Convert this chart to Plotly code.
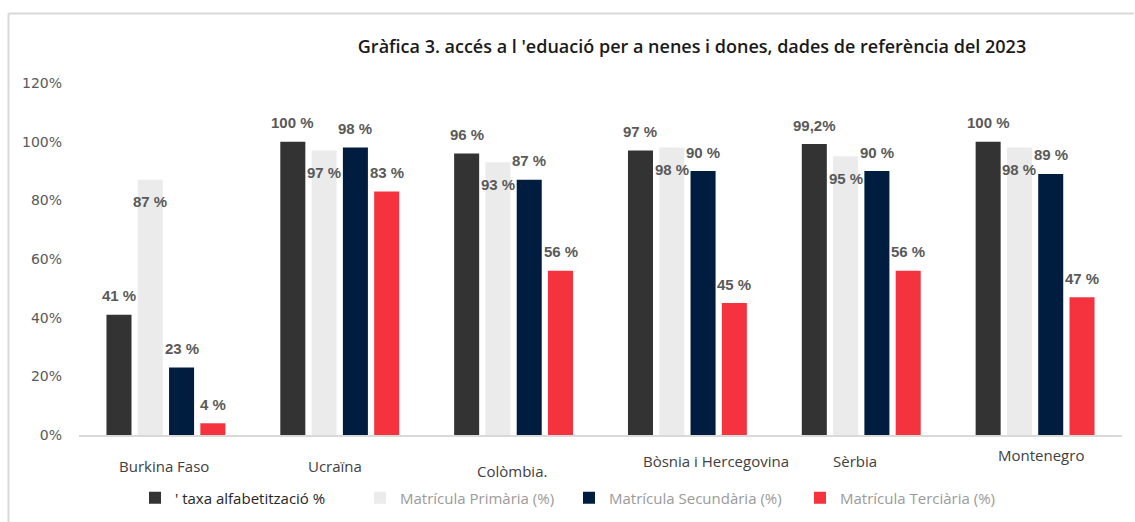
import plotly.graph_objects as go

# ---------------- data ----------------
categories = ["Burkina Faso", "Ucraïna", "Colòmbia.", "Bòsnia i Hercegovina", "Sèrbia", "Montenegro"]
series_names = ["' taxa alfabetització %", "Matrícula Primària (%)",
                "Matrícula Secundària (%)", "Matrícula Terciària (%)"]
alfabetitzacio = [41, 100, 96, 97, 99.2, 100]
primaria = [87, 97, 93, 98, 95, 98]
secundaria = [23, 98, 87, 90, 90, 89]
terciaria = [4, 83, 56, 45, 56, 47]
y_ticks = [0, 20, 40, 60, 80, 100, 120]
y_tick_labels = ["0%", "20%", "40%", "60%", "80%", "100%", "120%"]
title_text = "Gràfica 3. accés a l 'eduació per a nenes i dones, dades de referència del 2023"

# ---------------- styles ----------------
W, H = 1135, 522
ML, MR, MT, MB = 79, 13, 83, 87
colors = ["#333333", "#EBEBEB", "#001D40", "#F4333F"]
legend_text_colors = ["#262626", "#9a9a9a", "#9a9a9a", "#9a9a9a"]
label_shift = [19, -22, 19, 19]          # vertical offset of value labels (px)
cat_label_dx = [-2, -5, -2, 29, -6, 6]   # x offsets of category labels (px)
cat_label_dy = [-31, -31, -36, -26, -26, -20]
legend_text_x = [175, 400, 609, 840]     # px where legend text starts
legend_y_px = 498
BARGAP, GROUPGAP = 0.28, 0.2

PW, PH = W - ML - MR, H - MT - MB
def px_to_paper_x(px):
    return (px - ML) / PW
def px_to_paper_y(py):
    return (H - MB - py) / PH

series = [alfabetitzacio, primaria, secundaria, terciaria]

def fmt(v):
    if float(v).is_integer():
        return f"{int(v)} %"
    return f"{v}".replace(".", ",") + "%"

fig = go.Figure()
legend_keys = ["legend", "legend2", "legend3", "legend4"]
for k, (name, vals, c) in enumerate(zip(series_names, series, colors)):
    fig.add_trace(go.Bar(
        x=categories, y=vals, name=name, marker=dict(color=c, line=dict(width=0)),
        legend=legend_keys[k], hoverinfo="x+y+name",
    ))

annotations = []
slot = (1 - BARGAP) / len(series)
for k, vals in enumerate(series):
    off = (k - (len(series) - 1) / 2) * slot
    for i, v in enumerate(vals):
        annotations.append(dict(
            x=i + off, y=v, xref="x", yref="y", text=fmt(v), showarrow=False,
            yshift=label_shift[k], xanchor="center", yanchor="middle",
            font=dict(family="Liberation Sans, Arial", size=15, color="#595959", weight="bold"),
        ))

for i, cat in enumerate(categories):
    annotations.append(dict(
        x=cat, y=0, xref="x", yref="y", text=cat, showarrow=False,
        xshift=cat_label_dx[i], yshift=cat_label_dy[i], xanchor="center", yanchor="middle",
        font=dict(family="Open Sans", size=15, color="#404040"),
    ))

layout_legends = {}
for k, key in enumerate(legend_keys):
    layout_legends[key] = dict(
        x=px_to_paper_x(legend_text_x[k] - 40), y=px_to_paper_y(legend_y_px),
        xanchor="left", yanchor="middle", orientation="h",
        bgcolor="rgba(0,0,0,0)", borderwidth=0,
        font=dict(family="Open Sans", size=15, color=legend_text_colors[k]),
    )

frame_color = "#d9d9d9"
shapes = [
    dict(type="line", xref="paper", yref="paper",
         x0=px_to_paper_x(8.5), x1=px_to_paper_x(8.5), y0=px_to_paper_y(13.5), y1=px_to_paper_y(H + 2),
         line=dict(color=frame_color, width=2)),
    dict(type="line", xref="paper", yref="paper",
         x0=px_to_paper_x(8.5), x1=px_to_paper_x(1134), y0=px_to_paper_y(13.5), y1=px_to_paper_y(13.5),
         line=dict(color=frame_color, width=2)),
]

fig.update_layout(
    width=W, height=H,
    margin=dict(l=ML, r=MR, t=MT, b=MB, pad=0, autoexpand=False),
    paper_bgcolor="white", plot_bgcolor="white",
    barmode="group", bargap=BARGAP, bargroupgap=GROUPGAP,
    title=dict(text=title_text, x=692 / W, y=(H - 47) / H, xref="container", yref="container",
               xanchor="center", yanchor="middle",
               font=dict(family="Open Sans", size=18, color="#1a1a1a", weight=600)),
    xaxis=dict(type="category", showticklabels=False, showline=True, linecolor="#d9d9d9",
               linewidth=1.5, showgrid=False, zeroline=False, ticks=""),
    yaxis=dict(range=[0, 120], tickmode="array", tickvals=y_ticks, ticktext=y_tick_labels,
               showgrid=False, zeroline=False,
               showline=False, ticks="", ticklabelstandoff=16,
               tickfont=dict(family="DejaVu Sans", size=14, color="#595959")),
    annotations=annotations,
    shapes=shapes,
    showlegend=True,
    **layout_legends,
)

fig.write_html("out.html")
